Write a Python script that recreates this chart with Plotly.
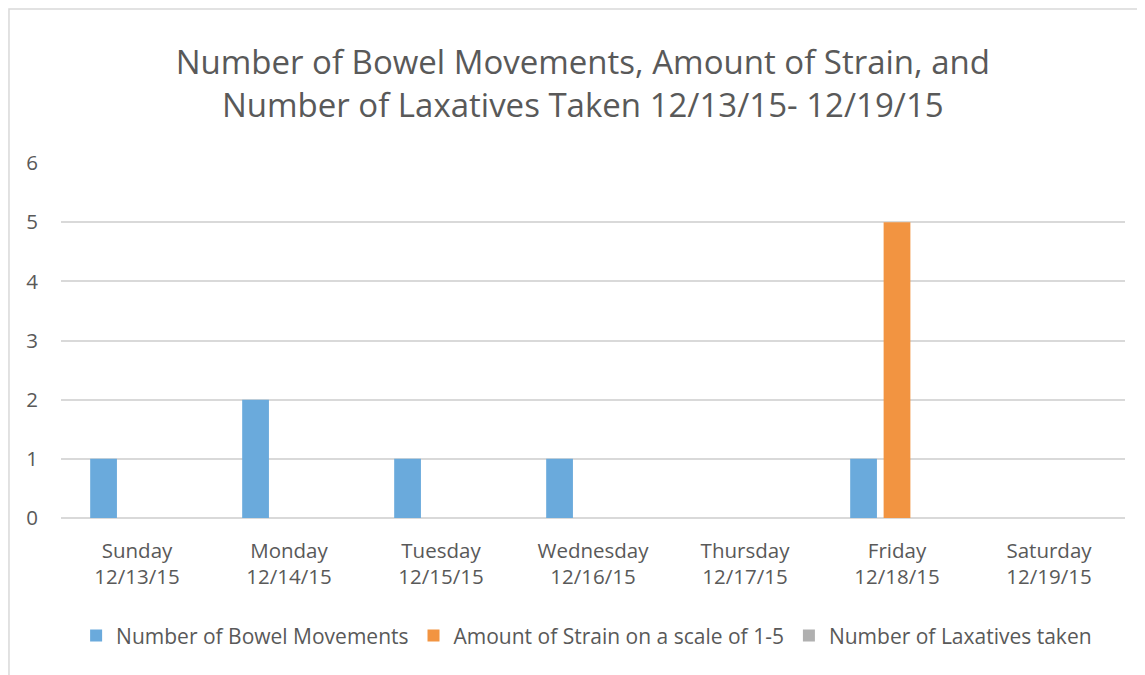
import plotly.graph_objects as go

# data
days = ["Sunday<br>12/13/15", "Monday<br>12/14/15", "Tuesday<br>12/15/15",
        "Wednesday<br>12/16/15", "Thursday<br>12/17/15", "Friday<br>12/18/15",
        "Saturday<br>12/19/15"]
bowel_movements = [1, 2, 1, 1, 0, 1, 0]
strain = [0, 0, 0, 0, 0, 5, 0]
laxatives = [0, 0, 0, 0, 0, 0, 0]

series_names = ["Number of Bowel Movements", "Amount of Strain on a scale of 1-5",
                "Number of Laxatives taken"]
COLORS = ["#6AAADC", "#F29441", "#B0B0B0"]
TEXT = "#595959"
FONT = "'Open Sans', sans-serif"

fig = go.Figure()
for name, vals, col in zip(series_names, [bowel_movements, strain, laxatives], COLORS):
    fig.add_trace(go.Bar(x=days, y=vals, name=name, marker_color=col,
                         marker_line_width=0))

fig.update_layout(
    width=1145, height=675,
    paper_bgcolor="white", plot_bgcolor="white",
    font=dict(family=FONT, color=TEXT, size=20),
    title=dict(
        text="Number of Bowel Movements, Amount of Strain, and<br>Number of Laxatives Taken 12/13/15- 12/19/15",
        x=0.502, xanchor="center", y=0.902, yanchor="middle",
        font=dict(size=33, color=TEXT, family=FONT),
    ),
    barmode="group", bargap=0.34, bargroupgap=0.2,
    margin=dict(l=53, r=28, t=155, b=165),
    legend=dict(orientation="h", x=0.494, xanchor="center", y=-0.332, yanchor="middle",
                font=dict(size=21, color=TEXT), itemwidth=30, traceorder="normal"),
    showlegend=True,
)
fig.update_xaxes(showgrid=False, showline=False, ticks="", ticklabelstandoff=18,
                 tickfont=dict(size=20.5, color=TEXT))
fig.update_yaxes(range=[0, 6], dtick=1, showgrid=True, gridcolor="#D9D9D9", gridwidth=1.5,
                 zeroline=True, zerolinecolor="#D9D9D9", zerolinewidth=1.5,
                 ticks="", ticklabelstandoff=22, tickfont=dict(size=20.5, color=TEXT))

# outer chart border like the source image
fig.add_shape(type="rect", xref="paper", yref="paper",
              x0=-0.0489, x1=1.1, y0=-0.6, y1=1.434,
              line=dict(color="#D9D9D9", width=1.5), layer="below")

fig.write_html("out.html")
